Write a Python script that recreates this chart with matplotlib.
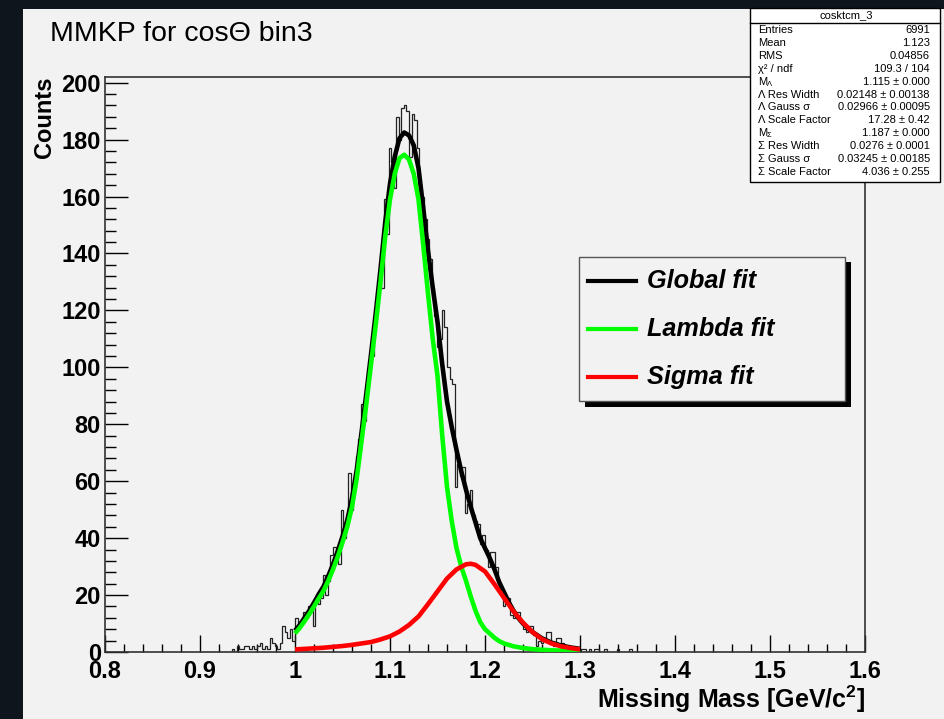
import matplotlib.pyplot as plt
import numpy as np
from matplotlib.patches import Rectangle
from matplotlib.lines import Line2D

W, H = 945, 719

# histogram: 300 bins between 0.8 and 1.6, counts given from bin 45 (m = 0.92) on
n_bins = 300
first_bin = 45
counts = [0, 0, 0, 0, 0, 1, 0, 2, 1, 1,
          2, 2, 1, 2, 1, 2, 3, 1, 2, 1,
          5, 3, 2, 1, 3, 9, 7, 5, 8, 4,
          12, 8, 10, 14, 12, 16, 15, 9, 18, 17,
          19, 27, 20, 25, 34, 37, 35, 31, 50, 40,
          45, 63, 50, 60, 69, 75, 87, 81, 92, 100,
          104, 118, 124, 131, 128, 159, 147, 177, 172, 163,
          188, 180, 191, 192, 190, 174, 189, 187, 177, 161,
          160, 152, 145, 138, 128, 118, 107, 110, 120, 114,
          100, 96, 94, 58, 66, 62, 65, 49, 52, 57,
          48, 46, 45, 38, 41, 36, 30, 35, 35, 30,
          25, 21, 16, 19, 19, 13, 12, 14, 14, 11,
          8, 7, 9, 9, 6, 2, 4, 3, 4, 7,
          7, 3, 2, 5, 5, 3, 2, 1, 1, 0,
          1, 1, 0, 1, 1, 0, 1, 0, 1, 1,
          0, 0, 1, 0, 0, 0, 0, 1, 0, 0,
          0, 0, 1, 0]

# fit curves
global_m = [1.0, 1.005, 1.01, 1.015, 1.02, 1.025, 1.03, 1.035, 1.04, 1.045,
            1.05, 1.055, 1.06, 1.065, 1.07, 1.075, 1.08, 1.085, 1.09, 1.095,
            1.1, 1.105, 1.11, 1.115, 1.12, 1.125, 1.13, 1.135, 1.14, 1.145,
            1.15, 1.155, 1.16, 1.165, 1.17, 1.175, 1.18, 1.185, 1.19, 1.195,
            1.2, 1.205, 1.21, 1.215, 1.22, 1.225, 1.23, 1.235, 1.24, 1.25,
            1.26, 1.27, 1.28, 1.29, 1.3]
global_y = [7.5, 9.5, 12, 14.5, 17.3, 20.3, 23, 26.7, 30.8, 35.5,
            40.6, 46.3, 54, 64, 77, 90.5, 104.5, 119, 134.5, 151,
            164.5, 174, 180.5, 182.5, 181.5, 178, 170, 156, 141, 128,
            116, 101, 88, 79, 71, 63.5, 57, 51, 45.5, 40,
            36.5, 33, 29, 24.5, 21, 17.5, 14.5, 12, 10, 7,
            4.8, 3.3, 2.3, 1.6, 1.1]

lambda_m = [1.0, 1.005, 1.01, 1.015, 1.02, 1.025, 1.03, 1.035, 1.04, 1.045,
            1.05, 1.055, 1.06, 1.065, 1.07, 1.075, 1.08, 1.085, 1.09, 1.095,
            1.1, 1.105, 1.11, 1.115, 1.12, 1.125, 1.13, 1.135, 1.14, 1.145,
            1.15, 1.155, 1.16, 1.165, 1.17, 1.175, 1.18, 1.185, 1.19, 1.195,
            1.2, 1.205, 1.21, 1.215, 1.22, 1.23, 1.24, 1.25, 1.26, 1.27,
            1.28, 1.29, 1.3]
lambda_y = [6.5, 8.5, 10.8, 13.3, 16.0, 18.8, 21.5, 25.0, 29.0, 33.5,
            38.5, 44.0, 51, 61, 74, 87, 101, 115, 130, 146,
            159, 168, 173.5, 174.7, 173, 168, 159, 143, 126, 110,
            97, 76, 58, 46, 36.5, 30, 25, 19.5, 14.5, 10.5,
            8.0, 6.5, 5.0, 3.8, 3.0, 2.0, 1.4, 1.0, 0.8, 0.6,
            0.5, 0.4, 0.3]

sigma_m = [1.0, 1.01, 1.02, 1.03, 1.04, 1.05, 1.06, 1.07, 1.08, 1.09,
           1.1, 1.11, 1.12, 1.13, 1.14, 1.15, 1.16, 1.17, 1.18, 1.185,
           1.19, 1.2, 1.21, 1.22, 1.23, 1.24, 1.25, 1.26, 1.27, 1.28,
           1.29, 1.3]
sigma_y = [0.9, 1.1, 1.3, 1.5, 1.8, 2.1, 2.5, 3.0, 3.5, 4.4,
           5.5, 7.2, 9.5, 12.5, 16.8, 21.3, 25.8, 29.0, 30.8, 31.0,
           30.6, 28.3, 23.8, 19.0, 14.3, 10.3, 7.0, 4.5, 3.0, 2.0,
           1.4, 0.9]

x_ticks = [0.8, 0.9, 1.0, 1.1, 1.2, 1.3, 1.4, 1.5, 1.6]
x_tick_labels = ['0.8', '0.9', '1', '1.1', '1.2', '1.3', '1.4', '1.5', '1.6']
y_ticks = [0, 20, 40, 60, 80, 100, 120, 140, 160, 180, 200]

legend_labels = ['Global fit', 'Lambda fit', 'Sigma fit']
legend_colors = ['black', '#00ff00', '#ff0000']

# stats box rows; a second entry in a name is drawn as a subscript
stat_names = [('Entries', ''), ('Mean', ''), ('RMS', ''), ('\u03c7\u00b2 / ndf', ''),
              ('M', '\u039b'), ('\u039b Res Width', ''), ('\u039b Gauss \u03c3', ''),
              ('\u039b Scale Factor', ''), ('M', '\u03a3'), ('\u03a3 Res Width', ''),
              ('\u03a3 Gauss \u03c3', ''), ('\u03a3 Scale Factor', '')]
stat_values = ['6991', '1.123', '0.04856', '109.3 / 104', '1.115 \u00b1 0.000',
               '0.02148 \u00b1 0.00138', '0.02966 \u00b1 0.00095', '17.28 \u00b1 0.42',
               '1.187 \u00b1 0.000', '0.0276 \u00b1 0.0001', '0.03245 \u00b1 0.00185',
               '4.036 \u00b1 0.255']

canvas_bg = '#f2f2f2'

plt.rcParams['font.family'] = ['Liberation Sans', 'DejaVu Sans']
plt.rcParams['mathtext.fontset'] = 'custom'
plt.rcParams['mathtext.rm'] = 'Liberation Sans'
plt.rcParams['mathtext.it'] = 'Liberation Sans:italic'
plt.rcParams['mathtext.bf'] = 'Liberation Sans:bold'


def fx(x):
    return x / W


def fy(y):
    return 1 - y / H


fig = plt.figure(figsize=(W / 100, H / 100), dpi=100, facecolor='#0f151d')
# light canvas on top of the dark background
fig.add_artist(Rectangle((fx(23), 0), 1 - fx(23), fy(9), transform=fig.transFigure,
                         facecolor=canvas_bg, edgecolor='none', zorder=0))

ax = fig.add_axes([fx(105), fy(652), fx(865) - fx(105), fy(77) - fy(652)])
ax.set_facecolor(canvas_bg)
ax.set_xlim(0.8, 1.6)
ax.set_ylim(0, 202)

edges = np.linspace(0.8, 1.6, n_bins + 1)
ax.stairs(counts, edges[first_bin:first_bin + len(counts) + 1], color='#222222', lw=0.9, zorder=2)

ax.plot(global_m, global_y, color=legend_colors[0], lw=3.3, zorder=3, solid_capstyle='butt')
ax.plot(lambda_m, lambda_y, color=legend_colors[1], lw=3.3, zorder=4, solid_capstyle='butt')
ax.plot(sigma_m, sigma_y, color=legend_colors[2], lw=3.3, zorder=5, solid_capstyle='butt')

for s in ax.spines.values():
    s.set_color('#333333')
    s.set_linewidth(1.2)

ax.set_xticks(x_ticks)
ax.set_xticklabels(x_tick_labels)
ax.set_xticks(np.arange(0.8, 1.6001, 0.02), minor=True)
ax.set_yticks(y_ticks)
ax.set_yticks(np.arange(0, 202, 4), minor=True)
ax.tick_params(axis='x', which='major', direction='in', length=12, width=1, pad=6, labelsize=17)
ax.tick_params(axis='x', which='minor', direction='in', length=6, width=1)
ax.tick_params(axis='y', which='major', direction='in', length=16.5, width=1, pad=3, labelsize=17)
ax.tick_params(axis='y', which='minor', direction='in', length=8, width=1)
for lbl in ax.get_xticklabels() + ax.get_yticklabels():
    lbl.set_fontweight('bold')

ax.text(1.0, (652 - 708) / 575, 'Missing Mass [GeV/c$^{\\mathbf{2}}$]', transform=ax.transAxes,
        ha='right', va='baseline', fontsize=18, fontweight='bold')
ax.text((45 - 105) / 760, 1.0, 'Counts', transform=ax.transAxes, rotation=90,
        ha='center', va='top', fontsize=17, fontweight='bold')

fig.text(fx(50), fy(41), 'MMKP for cos\u0398 bin3', fontsize=20.5, va='baseline')

# legend box with shadow
fig.add_artist(Rectangle((fx(585), fy(407)), fx(851) - fx(585), fy(262) - fy(407),
                         transform=fig.transFigure, facecolor='black', edgecolor='none', zorder=6))
fig.add_artist(Rectangle((fx(579), fy(401)), fx(845) - fx(579), fy(257) - fy(401),
                         transform=fig.transFigure, facecolor=canvas_bg, edgecolor='#555555',
                         lw=1, zorder=7))
for k, (lab, col) in enumerate(zip(legend_labels, legend_colors)):
    yy = 281 + k * 47.8
    fig.add_artist(Line2D([fx(588), fx(636)], [fy(yy), fy(yy)], transform=fig.transFigure,
                          color=col, lw=3, zorder=8))
    fig.text(fx(647), fy(yy), lab, fontsize=18.2, fontweight='bold', style='italic',
             va='center', ha='left', zorder=8)

# stats box
fig.add_artist(Rectangle((fx(750), fy(182)), fx(940) - fx(750), fy(8) - fy(182),
                         transform=fig.transFigure, facecolor='white', edgecolor='black',
                         lw=1, zorder=9))
fig.add_artist(Line2D([fx(750), fx(940)], [fy(22.5), fy(22.5)], transform=fig.transFigure,
                      color='black', lw=1, zorder=10))
fig.text(fx(846), fy(15), 'cosktcm_3', fontsize=8, ha='center', va='center', zorder=10)
for k, ((nm, sub), val) in enumerate(zip(stat_names, stat_values)):
    yy = 30 + k * 12.9
    fig.text(fx(758), fy(yy), nm, fontsize=8, ha='left', va='center', zorder=10)
    if sub:
        fig.text(fx(767), fy(yy + 2.5), sub, fontsize=5.5, ha='left', va='center', zorder=10)
    fig.text(fx(930), fy(yy), val, fontsize=8, ha='right', va='center', zorder=10)

fig.savefig('out.png', dpi=100, facecolor=fig.get_facecolor())
